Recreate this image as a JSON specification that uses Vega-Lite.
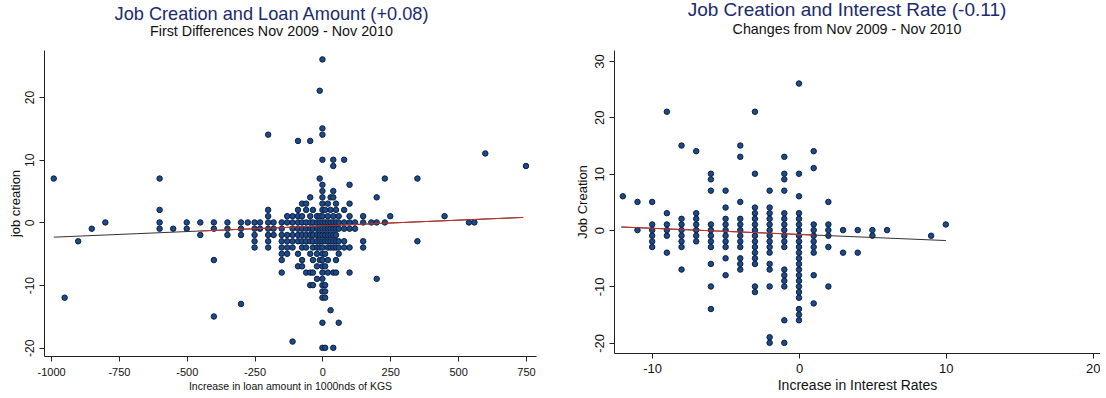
{
  "$schema": "https://vega.github.io/schema/vega-lite/v6.json",
  "background": "white",
  "padding": {"left": 9, "top": 0, "right": 0, "bottom": 0},
  "spacing": 39,
  "config": {
    "view": {"stroke": null},
    "font": "Liberation Sans",
    "axis": {"grid": false, "domainColor": "#222222", "tickColor": "#222222", "labelColor": "#111111", "titleColor": "#111111", "titleFontWeight": "normal", "labelFont": "Liberation Sans", "titleFont": "Liberation Sans", "tickSize": 5, "labelExpr": "'' + datum.value"},
    "title": {"font": "Liberation Sans", "subtitleFont": "Liberation Sans", "fontWeight": "normal", "color": "#1c2a6e", "subtitleColor": "#111111", "fontSize": 19, "subtitleFontSize": 14.3, "subtitlePadding": 0, "anchor": "middle"}
  },
  "datasets": {
    "loan": [
      {"x":-990,"y":7},{"x":-950,"y":-12},{"x":-900,"y":-3},{"x":-850,"y":-1},{"x":-800,"y":0},
      {"x":-600,"y":7},{"x":-600,"y":2},{"x":-600,"y":0},{"x":-600,"y":-1},{"x":-550,"y":-1},
      {"x":-500,"y":0},{"x":-500,"y":-1},{"x":-450,"y":0},{"x":-450,"y":-2},
      {"x":-400,"y":0},{"x":-400,"y":-1},{"x":-400,"y":-6},{"x":-400,"y":-15},
      {"x":-350,"y":0},{"x":-350,"y":-1},{"x":-350,"y":-2},
      {"x":-300,"y":0},{"x":-300,"y":-1},{"x":-300,"y":-2},{"x":-300,"y":-13},{"x":-275,"y":0},
      {"x":-250,"y":0},{"x":-250,"y":-1},{"x":-250,"y":-2},{"x":-250,"y":-3},{"x":-250,"y":-4},
      {"x":-230,"y":0},{"x":-230,"y":-1},
      {"x":-200,"y":14},{"x":-200,"y":2},{"x":-200,"y":1},{"x":-200,"y":0},{"x":-200,"y":-1},{"x":-200,"y":-2},{"x":-200,"y":-3},{"x":-200,"y":-4},
      {"x":-180,"y":0},{"x":-180,"y":-1},{"x":-180,"y":-2},
      {"x":-150,"y":0},{"x":-150,"y":-1},{"x":-150,"y":-2},{"x":-150,"y":-3},{"x":-150,"y":-4},{"x":-150,"y":-5},{"x":-150,"y":-6},{"x":-150,"y":-8},
      {"x":-130,"y":1},{"x":-130,"y":0},{"x":-130,"y":-2},{"x":-130,"y":-3},{"x":-130,"y":-4},{"x":-130,"y":-5},
      {"x":-110,"y":-19},{"x":-110,"y":1},{"x":-110,"y":0},{"x":-110,"y":-1},{"x":-110,"y":-2},{"x":-110,"y":-3},{"x":-110,"y":-4},
      {"x":-90,"y":13},{"x":-90,"y":2},{"x":-90,"y":1},{"x":-90,"y":0},{"x":-90,"y":-1},{"x":-90,"y":-2},{"x":-90,"y":-3},{"x":-90,"y":-5},{"x":-90,"y":-7},
      {"x":-75,"y":3},{"x":-75,"y":1},{"x":-75,"y":0},{"x":-75,"y":-1},{"x":-75,"y":-2},{"x":-75,"y":-3},{"x":-75,"y":-4},{"x":-75,"y":-6},{"x":-75,"y":-7},
      {"x":-60,"y":3},{"x":-60,"y":2},{"x":-60,"y":0},{"x":-60,"y":-1},{"x":-60,"y":-2},{"x":-60,"y":-3},{"x":-60,"y":-4},{"x":-60,"y":-8},
      {"x":-45,"y":13},{"x":-45,"y":4},{"x":-45,"y":1},{"x":-45,"y":0},{"x":-45,"y":-1},{"x":-45,"y":-2},{"x":-45,"y":-3},{"x":-45,"y":-5},{"x":-45,"y":-8},{"x":-45,"y":-10},
      {"x":-35,"y":2},{"x":-35,"y":0},{"x":-35,"y":-1},{"x":-35,"y":-2},{"x":-35,"y":-3},{"x":-35,"y":-4},{"x":-35,"y":-6},{"x":-35,"y":-8},{"x":-35,"y":-10},
      {"x":-20,"y":1},{"x":-20,"y":0},{"x":-20,"y":-1},{"x":-20,"y":-2},{"x":-20,"y":-3},{"x":-20,"y":-4},{"x":-20,"y":-5},{"x":-20,"y":-7},{"x":-20,"y":-9},
      {"x":-10,"y":21},{"x":-10,"y":7},{"x":-10,"y":1},{"x":-10,"y":0},{"x":-10,"y":-1},{"x":-10,"y":-2},{"x":-10,"y":-3},{"x":-10,"y":-4},{"x":-10,"y":-6},
      {"x":0,"y":26},{"x":0,"y":15},{"x":0,"y":14},{"x":0,"y":10},{"x":0,"y":6},{"x":0,"y":5},{"x":0,"y":4},{"x":0,"y":3},{"x":0,"y":2},{"x":0,"y":1},{"x":0,"y":0},{"x":0,"y":-1},{"x":0,"y":-2},{"x":0,"y":-3},{"x":0,"y":-4},{"x":0,"y":-5},{"x":0,"y":-6},{"x":0,"y":-7},{"x":0,"y":-8},{"x":0,"y":-9},{"x":0,"y":-10},{"x":0,"y":-11},{"x":0,"y":-12},{"x":0,"y":-16},{"x":0,"y":-20},
      {"x":10,"y":2},{"x":10,"y":0},{"x":10,"y":-1},{"x":10,"y":-2},{"x":10,"y":-3},{"x":10,"y":-5},{"x":10,"y":-7},{"x":10,"y":-10},{"x":10,"y":-11},{"x":10,"y":-12},{"x":10,"y":-20},
      {"x":20,"y":3},{"x":20,"y":1},{"x":20,"y":0},{"x":20,"y":-1},{"x":20,"y":-2},{"x":20,"y":-3},{"x":20,"y":-4},{"x":20,"y":-6},{"x":20,"y":-8},
      {"x":30,"y":4},{"x":30,"y":2},{"x":30,"y":0},{"x":30,"y":-1},{"x":30,"y":-2},{"x":30,"y":-3},{"x":30,"y":-4},{"x":30,"y":-14},
      {"x":40,"y":10},{"x":40,"y":9},{"x":40,"y":5},{"x":40,"y":4},{"x":40,"y":1},{"x":40,"y":0},{"x":40,"y":-1},{"x":40,"y":-2},{"x":40,"y":-3},{"x":40,"y":-4},{"x":40,"y":-8},{"x":40,"y":-20},
      {"x":50,"y":3},{"x":50,"y":2},{"x":50,"y":0},{"x":50,"y":-1},{"x":50,"y":-2},{"x":50,"y":-3},{"x":50,"y":-4},{"x":50,"y":-6},{"x":50,"y":-8},
      {"x":60,"y":1},{"x":60,"y":0},{"x":60,"y":-1},{"x":60,"y":-3},{"x":60,"y":-4},{"x":60,"y":-5},{"x":60,"y":-16},
      {"x":80,"y":10},{"x":80,"y":2},{"x":80,"y":0},{"x":80,"y":-1},{"x":80,"y":-3},{"x":80,"y":-4},
      {"x":100,"y":6},{"x":100,"y":3},{"x":100,"y":1},{"x":100,"y":0},{"x":100,"y":-1},{"x":100,"y":-4},{"x":100,"y":-8},
      {"x":120,"y":0},{"x":120,"y":-1},
      {"x":150,"y":1},{"x":150,"y":0},{"x":150,"y":-3},{"x":150,"y":-4},
      {"x":180,"y":0},
      {"x":200,"y":4},{"x":200,"y":0},{"x":200,"y":-9},
      {"x":230,"y":7},{"x":230,"y":0},{"x":250,"y":1},
      {"x":350,"y":7},{"x":350,"y":-3},{"x":450,"y":1},{"x":540,"y":0},{"x":560,"y":0},{"x":600,"y":11},{"x":750,"y":9}
    ],
    "loanFit": [
      {"x":-990,"y":-2.35,"s":"all"},{"x":740,"y":0.8,"s":"all"},
      {"x":-450,"y":-1.37,"s":"sub"},{"x":740,"y":0.8,"s":"sub"}
    ],
    "rate": [
      {"x":-12,"y":6},
      {"x":-11,"y":5},{"x":-11,"y":0},
      {"x":-10,"y":5},{"x":-10,"y":1},{"x":-10,"y":0},{"x":-10,"y":-1},{"x":-10,"y":-2},{"x":-10,"y":-3},
      {"x":-9,"y":21},{"x":-9,"y":3},{"x":-9,"y":1},{"x":-9,"y":0},{"x":-9,"y":-1},{"x":-9,"y":-4},
      {"x":-8,"y":15},{"x":-8,"y":2},{"x":-8,"y":1},{"x":-8,"y":0},{"x":-8,"y":-1},{"x":-8,"y":-2},{"x":-8,"y":-3},{"x":-8,"y":-7},
      {"x":-7,"y":14},{"x":-7,"y":3},{"x":-7,"y":2},{"x":-7,"y":1},{"x":-7,"y":0},{"x":-7,"y":-1},{"x":-7,"y":-2},
      {"x":-6,"y":10},{"x":-6,"y":9},{"x":-6,"y":7},{"x":-6,"y":1},{"x":-6,"y":0},{"x":-6,"y":-1},{"x":-6,"y":-2},{"x":-6,"y":-3},{"x":-6,"y":-6},{"x":-6,"y":-10},{"x":-6,"y":-14},
      {"x":-5,"y":7},{"x":-5,"y":4},{"x":-5,"y":2},{"x":-5,"y":1},{"x":-5,"y":0},{"x":-5,"y":-1},{"x":-5,"y":-2},{"x":-5,"y":-3},{"x":-5,"y":-5},{"x":-5,"y":-8},
      {"x":-4,"y":15},{"x":-4,"y":13},{"x":-4,"y":5},{"x":-4,"y":2},{"x":-4,"y":1},{"x":-4,"y":0},{"x":-4,"y":-1},{"x":-4,"y":-2},{"x":-4,"y":-3},{"x":-4,"y":-5},{"x":-4,"y":-6},{"x":-4,"y":-7},
      {"x":-3,"y":21},{"x":-3,"y":10},{"x":-3,"y":4},{"x":-3,"y":3},{"x":-3,"y":2},{"x":-3,"y":1},{"x":-3,"y":0},{"x":-3,"y":-1},{"x":-3,"y":-2},{"x":-3,"y":-3},{"x":-3,"y":-4},{"x":-3,"y":-5},{"x":-3,"y":-6},{"x":-3,"y":-10},{"x":-3,"y":-11},
      {"x":-2,"y":7},{"x":-2,"y":4},{"x":-2,"y":3},{"x":-2,"y":2},{"x":-2,"y":1},{"x":-2,"y":0},{"x":-2,"y":-1},{"x":-2,"y":-2},{"x":-2,"y":-3},{"x":-2,"y":-4},{"x":-2,"y":-6},{"x":-2,"y":-7},{"x":-2,"y":-10},{"x":-2,"y":-19},{"x":-2,"y":-20},
      {"x":-1,"y":13},{"x":-1,"y":10},{"x":-1,"y":9},{"x":-1,"y":7},{"x":-1,"y":3},{"x":-1,"y":2},{"x":-1,"y":1},{"x":-1,"y":0},{"x":-1,"y":-1},{"x":-1,"y":-2},{"x":-1,"y":-3},{"x":-1,"y":-7},{"x":-1,"y":-8},{"x":-1,"y":-9},{"x":-1,"y":-10},{"x":-1,"y":-16},{"x":-1,"y":-20},
      {"x":0,"y":26},{"x":0,"y":10},{"x":0,"y":6},{"x":0,"y":3},{"x":0,"y":2},{"x":0,"y":1},{"x":0,"y":0},{"x":0,"y":-1},{"x":0,"y":-2},{"x":0,"y":-3},{"x":0,"y":-4},{"x":0,"y":-5},{"x":0,"y":-6},{"x":0,"y":-7},{"x":0,"y":-8},{"x":0,"y":-9},{"x":0,"y":-10},{"x":0,"y":-11},{"x":0,"y":-12},{"x":0,"y":-14},{"x":0,"y":-15},{"x":0,"y":-16},
      {"x":1,"y":14},{"x":1,"y":11},{"x":1,"y":1},{"x":1,"y":0},{"x":1,"y":-1},{"x":1,"y":-2},{"x":1,"y":-3},{"x":1,"y":-4},{"x":1,"y":-8},{"x":1,"y":-13},
      {"x":2,"y":5},{"x":2,"y":1},{"x":2,"y":0},{"x":2,"y":-1},{"x":2,"y":-3},{"x":2,"y":-10},
      {"x":3,"y":0},{"x":3,"y":-4},{"x":4,"y":0},{"x":4,"y":-4},{"x":5,"y":0},{"x":5,"y":-1},{"x":6,"y":0},{"x":9,"y":-1},{"x":10,"y":1}
    ],
    "rateFit": [
      {"x":-12.1,"y":0.55,"s":"all"},{"x":10,"y":-1.85,"s":"all"},
      {"x":-12.1,"y":0.55,"s":"sub"},{"x":1,"y":-0.88,"s":"sub"}
    ]
  },
  "hconcat": [
    {
      "width": 492,
      "height": 306,
      "title": {"text": "Job Creation and Loan Amount (+0.08)", "subtitle": "First Differences Nov 2009 - Nov 2010", "frame": "bounds", "dx": -1, "offset": 10, "fontSize": 18.2, "subtitlePadding": 1},
      "layer": [
        {
          "data": {"name": "loan"},
          "mark": {"type": "circle", "size": 30, "fill": "#1b4a86", "fillOpacity": 1, "stroke": "#0c1f45", "strokeWidth": 1},
          "encoding": {
            "x": {"field": "x", "type": "quantitative", "scale": {"domain": [-1026, 787], "nice": false, "zero": false}, "axis": {"values": [-1000, -750, -500, -250, 0, 250, 500, 750], "title": "Increase in loan amount in 1000nds of KGS", "labelFontSize": 11, "titleFontSize": 10.5, "labelPadding": 5, "titlePadding": 4}},
            "y": {"field": "y", "type": "quantitative", "scale": {"domain": [-21.3, 27.5], "nice": false, "zero": false}, "axis": {"values": [-20, -10, 0, 10, 20], "title": "job creation", "labelAngle": -90, "labelFontSize": 12, "titleFontSize": 13, "labelPadding": 3, "titlePadding": 1}}
          }
        },
        {
          "data": {"name": "loanFit"},
          "mark": {"type": "line", "strokeWidth": 1},
          "encoding": {
            "x": {"field": "x", "type": "quantitative"},
            "y": {"field": "y", "type": "quantitative"},
            "color": {"field": "s", "type": "nominal", "scale": {"domain": ["all", "sub"], "range": ["#333333", "#c8322c"]}, "legend": null}
          }
        }
      ]
    },
    {
      "width": 486,
      "height": 303,
      "title": {"text": "Job Creation and Interest Rate (-0.11)", "subtitle": "Changes from Nov 2009 - Nov 2010", "frame": "group", "dx": -10, "offset": 13},
      "layer": [
        {
          "data": {"name": "rate"},
          "mark": {"type": "circle", "size": 30, "fill": "#1b4a86", "fillOpacity": 1, "stroke": "#0c1f45", "strokeWidth": 1},
          "encoding": {
            "x": {"field": "x", "type": "quantitative", "scale": {"domain": [-12.6, 20.5], "nice": false, "zero": false}, "axis": {"values": [-10, 0, 10, 20], "title": "Increase in Interest Rates", "labelFontSize": 13, "titleFontSize": 14, "labelPadding": 4, "titlePadding": 3}},
            "y": {"field": "y", "type": "quantitative", "scale": {"domain": [-21.8, 31.95], "nice": false, "zero": false}, "axis": {"values": [-20, -10, 0, 10, 20, 30], "title": "Job Creation", "labelAngle": -90, "labelFontSize": 13, "titleFontSize": 13, "labelPadding": 3, "titlePadding": 4}}
          }
        },
        {
          "data": {"name": "rateFit"},
          "mark": {"type": "line", "strokeWidth": 1},
          "encoding": {
            "x": {"field": "x", "type": "quantitative"},
            "y": {"field": "y", "type": "quantitative"},
            "color": {"field": "s", "type": "nominal", "scale": {"domain": ["all", "sub"], "range": ["#333333", "#c8322c"]}, "legend": null}
          }
        }
      ]
    }
  ]
}
